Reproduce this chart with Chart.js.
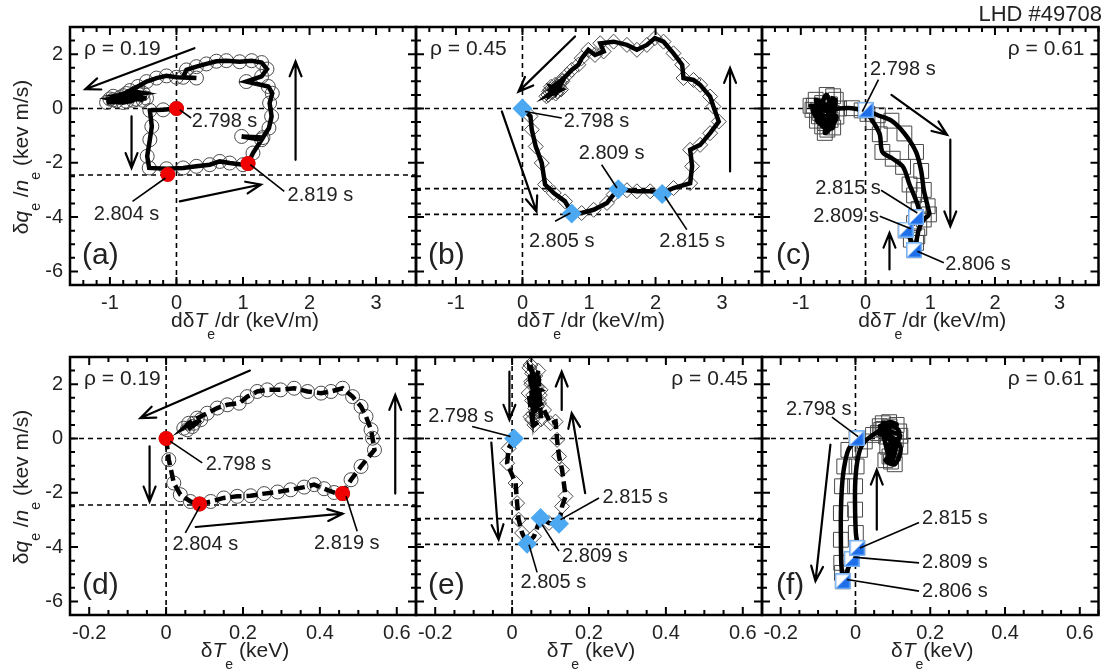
<!DOCTYPE html>
<html>
<head>
<meta charset="utf-8">
<script src="https://cdn.jsdelivr.net/npm/chart.js@4.4.1/dist/chart.umd.min.js"></script>
<style>
  html, body { margin: 0; padding: 0; background: #fff; }
  #wrap { position: relative; width: 1110px; height: 670px; overflow: hidden; }
  #wrap canvas { position: absolute; left: 0; top: 0; }
</style>
</head>
<body>
<div id="wrap">
  <canvas id="pa" width="1110" height="670"></canvas>
  <canvas id="pb" width="1110" height="670"></canvas>
  <canvas id="pc" width="1110" height="670"></canvas>
  <canvas id="pd" width="1110" height="670"></canvas>
  <canvas id="pe" width="1110" height="670"></canvas>
  <canvas id="pf" width="1110" height="670"></canvas>
</div>
<script>
// ---------- data ----------
// tick labels
const gradTicks = [-1, 0, 1, 2, 3];
const tempTicks = [-0.2, 0, 0.2, 0.4, 0.6];
const fluxTicks = [-6, -4, -2, 0, 2];

// (a) rho = 0.19, dq/n vs d(dT)/dr
const aLoopX = [0, -0.2, -0.4, -0.37, -0.4, -0.44, -0.41, -0.15, 0.1, 0.3, 0.5, 0.65, 0.8, 1.0, 1.075,
  1.15, 1.28, 0.98, 1.3, 1.39, 1.43, 1.4, 1.44, 1.38, 1.05, 1.28, 1.36, 1.28, 1.13, 0.95, 0.75, 0.6,
  0.45, 0.3, 0.15, 0.1, 0.3, 0.0, -0.15, -0.3, -0.45, -0.58, -0.7, -0.5, -0.8, -0.45, -0.95, -0.6,
  -1.05, -0.75, -0.9, -1.0, -0.85, -0.7, -0.55, -0.65, -0.8, -0.95, -0.6, -0.75, -0.5];
const aLoopY = [0, -0.05, -0.07, -0.66, -1.15, -1.76, -2.19, -2.22, -2.19, -2.13, -2.07, -1.95, -2.01, -2.07, -2.03,
  -1.64, -1.15, -1.03, -1.07, -0.72, -0.29, 0.2, 0.56, 0.81, 0.99, 1.18, 1.45, 1.69, 1.76, 1.72, 1.76, 1.74,
  1.64, 1.54, 1.42, 1.15, 1.12, 1.15, 1.2, 1.12, 0.99, 0.81, 0.66, 0.56, 0.47, 0.38, 0.32, 0.34,
  0.22, 0.26, 0.28, 0.35, 0.4, 0.45, 0.5, 0.3, 0.22, 0.45, 0.6, 0.55, 0.3];
const aKeyX = [0, -0.13, 1.075];
const aKeyY = [0, -2.43, -2.03];
const aTimes = ['2.798 s', '2.804 s', '2.819 s'];
const aLevels = [0, -2.45];

// (b) rho = 0.45, dq/n vs d(dT)/dr
const bLoopX = [0, 0.12, 0.14, 0.2, 0.29, 0.34, 0.47, 0.64, 0.74, 0.89, 1.07, 1.27, 1.37, 1.44, 1.57, 1.72,
  1.92, 2.1, 2.27, 2.52, 2.55, 2.52, 2.67, 2.82, 2.95, 2.87, 2.82, 2.67, 2.57, 2.42, 2.4, 2.27, 2.12,
  1.99, 1.87, 1.72, 1.57, 1.37, 1.17, 1.22, 1.09, 0.99, 0.89, 0.84, 0.74, 0.67, 0.59, 0.49, 0.42,
  0.52, 0.39, 0.54, 0.45, 0.48, 0.4, 0.55, 0.6, 0.5, 0.43, 0.58, 0.36];
const bLoopY = [0, -0.29, -0.78, -1.4, -2.01, -2.8, -3.11, -3.42, -3.85, -3.85, -3.73, -3.48, -3.17, -2.97, -3.01, -3.05,
  -3.05, -3.12, -2.93, -2.75, -2.13, -1.52, -1.34, -0.91, -0.48, 0.07, 0.44, 0.87, 1.05, 1.12, 1.61, 2.03, 2.46,
  2.59, 2.34, 2.16, 2.34, 2.46, 2.4, 2.1, 1.97, 2.16, 1.85, 1.61, 1.42, 1.24, 1.05, 0.87, 0.69,
  0.63, 0.5, 0.81, 0.6, 0.75, 0.62, 0.9, 1.0, 0.55, 0.8, 0.7, 0.45];
const bKeyX = [0, 0.74, 1.44, 2.1];
const bKeyY = [0, -3.87, -2.97, -3.15];
const bTimes = ['2.798 s', '2.805 s', '2.809 s', '2.815 s'];
const bLevels = [0, -2.95, -3.9];

// (c) rho = 0.61, dq/n vs d(dT)/dr
const cLoopX = [0, 0.19, 0.4, 0.6, 0.78, 0.86, 0.9, 0.96, 0.98, 0.9, 0.83, 0.8, 0.78, 0.75,
  0.7, 0.62, 0.75, 0.78, 0.82, 0.75, 0.68, 0.58, 0.42, 0.26, 0.22, 0.12, 0.03, -0.06, -0.21,
  -0.41, -0.57, -0.67, -0.72, -0.62, -0.77, -0.52, -0.67, -0.46, -0.59, -0.82, -0.54, -0.7, -0.6,
  -0.5, -0.75, -0.65, -0.55, -0.8, -0.85, -0.45, -0.63, -0.5];
const cLoopY = [-0.05, -0.25, -0.45, -0.92, -1.6, -2.3, -3.0, -3.6, -3.9, -4.09, -4.4, -4.71, -4.95, -5.22,
  -4.83, -4.49, -4.22, -4.0, -3.7, -3.2, -2.8, -2.15, -1.85, -1.6, -0.95, -0.5, -0.2, -0.07, 0.01,
  0.0, -0.05, 0.2, -0.29, -0.54, 0.32, -0.17, -0.66, 0.32, -0.78, -0.05, -0.42, -0.17, 0.5,
  -0.7, -0.45, 0.05, 0.15, 0.1, 0.1, -0.3, -0.9, 0.45];
const cKeyX = [0, 0.75, 0.62, 0.78];
const cKeyY = [-0.05, -5.22, -4.46, -4.0];
const cTimes = ['2.798 s', '2.806 s', '2.809 s', '2.815 s'];
const cLevels = [0];

// (d) rho = 0.19, dq/n vs dT
const dLoopX = [0, 0.007, 0.02, 0.037, 0.063, 0.087, 0.116, 0.15, 0.185, 0.22, 0.255, 0.29, 0.324, 0.359,
  0.385, 0.411, 0.437, 0.459, 0.481, 0.507, 0.542, 0.537, 0.533, 0.52, 0.507, 0.485, 0.459, 0.429,
  0.403, 0.368, 0.333, 0.298, 0.263, 0.237, 0.211, 0.19, 0.159, 0.133, 0.107, 0.081, 0.059, 0.046,
  0.072, 0.055, 0.09, 0.068];
const dLoopY = [0, -0.78, -1.64, -2.07, -2.32, -2.41, -2.32, -2.19, -2.13, -2.11, -2.03, -1.97, -1.89, -1.79,
  -1.7, -1.85, -1.99, -2.03, -1.52, -1.03, -0.42, 0.01, 0.32, 0.81, 1.18, 1.54, 1.85, 1.73,
  1.67, 1.73, 1.85, 1.79, 1.79, 1.73, 1.54, 1.3, 1.24, 1.12, 0.93, 0.75, 0.56, 0.38,
  0.56, 0.32, 0.69, 0.44];
const dKeyX = [0, 0.087, 0.459];
const dKeyY = [0, -2.41, -2.03];
const dTimes = ['2.798 s', '2.804 s', '2.819 s'];
const dLevels = [0, -2.45];

// (e) rho = 0.45, dq/n vs dT
const eLoopX = [0.005, -0.009, -0.013, 0.009, 0.013, 0.017, 0.026, 0.039, 0.057, 0.074, 0.096, 0.122, 0.13, 0.139,
  0.13, 0.122, 0.117, 0.113, 0.1, 0.083, 0.07, 0.061, 0.052, 0.048, 0.057, 0.065, 0.052, 0.043, 0.074,
  0.05, 0.06, 0.055, 0.045, 0.06, 0.05, 0.065, 0.055, 0.07, 0.06, 0.048, 0.058, 0.075, 0.068, 0.052,
  0.062, 0.072];
const eLoopY = [0, -0.36, -0.91, -1.64, -2.38, -2.99, -3.48, -3.88, -3.6, -2.93, -3.11, -3.14, -2.5, -2.13,
  -1.15, -0.66, -0.05, 0.62, 0.56, 1.05, 1.42, 1.91, 2.4, 2.71, 2.16, 1.18, 0.69, 1.67, 1.79,
  2.0, 1.5, 0.9, 2.6, 2.3, 2.1, 1.9, 1.6, 1.3, 1.1, 0.8, 0.5, 0.7, 2.5, 1.4,
  0.95, 1.6];
const eKeyX = [0.005, 0.039, 0.074, 0.122];
const eKeyY = [0, -3.88, -2.93, -3.14];
const eTimes = ['2.798 s', '2.805 s', '2.809 s', '2.815 s'];
const eLevels = [0, -2.95, -3.9];

// (f) rho = 0.61, dq/n vs dT
const fLoopX = [0.003, -0.019, -0.03, -0.036, -0.039, -0.039, -0.038, -0.036, -0.034, -0.01, 0.005, 0.001, -0.001,
  -0.001, 0.003, 0.012, 0.025, 0.047, 0.069, 0.091, 0.082, 0.1, 0.091, 0.104, 0.117, 0.073, 0.095,
  0.108, 0.06, 0.09, 0.11, 0.075, 0.12, 0.085, 0.1, 0.08, 0.105, 0.12, 0.065, 0.095];
const fLoopY = [0, -0.42, -1.03, -1.76, -2.75, -3.73, -4.58, -4.95, -5.26, -4.44, -4.03, -3.48, -2.62,
  -1.76, -1.03, -0.42, -0.11, 0.13, 0.32, 0.44, 0.07, -0.17, -0.66, -0.42, 0.26, 0.56, -0.85,
  -0.05, 0.2, 0.6, 0.5, 0.35, 0.1, -0.3, -0.55, -0.8, -0.95, -0.3, 0.45, 0.3];
const fKeyX = [0.003, -0.034, -0.01, 0.005];
const fKeyY = [0, -5.26, -4.44, -4.03];
const fTimes = ['2.798 s', '2.806 s', '2.809 s', '2.815 s'];
const fLevels = [0];

// ---------- drawing ----------
const FONT = '"Liberation Sans", Arial, Helvetica, sans-serif';
Chart.defaults.font.family = FONT;

function pts(xs, ys) { return xs.map((x, i) => ({ x: x, y: ys[i] })); }

// half white / half blue square used for the key times at rho = 0.61
function splitSquare(size) {
  const c = document.createElement('canvas');
  c.width = c.height = size;
  const g = c.getContext('2d');
  g.fillStyle = '#ffffff';
  g.fillRect(0, 0, size, size);
  g.fillStyle = '#1d6ee8';
  g.beginPath(); g.moveTo(size, 0); g.lineTo(size, size); g.lineTo(0, size); g.closePath(); g.fill();
  g.strokeStyle = '#79b2f4'; g.lineWidth = 1.5;
  g.strokeRect(0.75, 0.75, size - 1.5, size - 1.5);
  return c;
}
const halfSquare = splitSquare(16);

function drawArrow(ctx, x1, y1, x2, y2) {
  const ang = Math.atan2(y2 - y1, x2 - x1), L = 16, W = 0.38;
  ctx.beginPath();
  ctx.moveTo(x1, y1); ctx.lineTo(x2, y2);
  ctx.moveTo(x2 - L * Math.cos(ang - W), y2 - L * Math.sin(ang - W));
  ctx.lineTo(x2, y2);
  ctx.lineTo(x2 - L * Math.cos(ang + W), y2 - L * Math.sin(ang + W));
  ctx.stroke();
}

// text with italic parts ('i') and subscripts ('s')
function richText(ctx, parts, x, y) {
  const fontOf = s => (s === 'i' ? 'italic ' : '') + (s === 's' ? 14 : 21) + 'px ' + FONT;
  let w = 0;
  parts.forEach(([t, s]) => { ctx.font = fontOf(s); w += ctx.measureText(t).width; });
  let cx = x - w / 2;
  ctx.textAlign = 'left';
  ctx.textBaseline = 'middle';
  parts.forEach(([t, s]) => {
    ctx.font = fontOf(s);
    ctx.fillText(t, cx, s === 's' ? y + 14 : y);
    cx += ctx.measureText(t).width;
  });
}

const gradTitle = [['dδ', ''], ['T', 'i'], ['e', 's'], ['/dr (keV/m)', '']];
const tempTitle = [['δ', ''], ['T', 'i'], ['e', 's'], [' (keV)', '']];
const fluxTitle = [['δ', ''], ['q', 'i'], ['e', 's'], [' /', ''], ['n', 'i'], ['e', 's'], [' (kev m/s)', '']];

const panels = [
  { id: 'pa', tag: '(a)', rho: 'ρ = 0.19', rhoLeft: true, box: [70, 27, 416, 285], kind: 'grad',
    loopX: aLoopX, loopY: aLoopY, keyX: aKeyX, keyY: aKeyY, times: aTimes, levels: aLevels,
    marker: 'circle', key: 'dot', dash: [], tension: 0, yLabels: true,
    labels: [[0.23, -0.48, 'left', 0.05, -0.05, 0.22, -0.35], [-0.75, -3.91, 'center', -0.66, -3.42, -0.165, -2.56],
             [1.67, -3.21, 'left', 1.11, -2.07, 1.62, -3.05]],
    arrows: [[0.27, 2.22, -1.37, 0.71], [-0.675, -0.29, -0.675, -2.19], [0.05, -3.42, 1.27, -2.8], [1.79, -1.89, 1.79, 1.73]] },
  { id: 'pb', tag: '(b)', rho: 'ρ = 0.45', rhoLeft: true, box: [416, 27, 762, 285], kind: 'grad',
    loopX: bLoopX, loopY: bLoopY, keyX: bKeyX, keyY: bKeyY, times: bTimes, levels: bLevels,
    marker: 'rectRot', key: 'diamond', dash: [], tension: 0, yLabels: false,
    labels: [[0.62, -0.48, 'left', 0.04, -0.11, 0.59, -0.35], [0.59, -4.89, 'center', 0.49, -4.15, 0.72, -3.85],
             [1.34, -1.64, 'center', 1.19, -2.07, 1.42, -2.93], [2.55, -4.89, 'center', 2.47, -4.46, 2.14, -3.24]],
    arrows: [[0.79, 2.65, -0.06, 0.62], [-0.31, -0.11, 0.21, -3.79], [3.12, -2.32, 3.12, 1.49]] },
  { id: 'pc', tag: '(c)', rho: 'ρ = 0.61', rhoLeft: false, box: [762, 27, 1104, 285], kind: 'grad',
    loopX: cLoopX, loopY: cLoopY, keyX: cKeyX, keyY: cKeyY, times: cTimes, levels: cLevels,
    marker: 'rect', key: 'half', dash: [], tension: 0.3, yLabels: false, header: 'LHD #49708',
    labels: [[0.07, 1.42, 'left', 0.2, 1.06, -0.05, -0.12], [1.23, -5.75, 'left', 1.21, -5.68, 0.8, -5.26],
             [-0.3, -3.97, 'center', 0.22, -3.97, 0.7, -4.43], [-0.27, -2.96, 'center', 0.24, -3.01, 0.8, -3.85]],
    arrows: [[0.4, 0.5, 1.26, -0.97], [1.31, -1.15, 1.31, -4.34], [0.37, -5.93, 0.37, -4.58]] },
  { id: 'pd', tag: '(d)', rho: 'ρ = 0.19', rhoLeft: true, box: [70, 357, 416, 615], kind: 'temp',
    loopX: dLoopX, loopY: dLoopY, keyX: dKeyX, keyY: dKeyY, times: dTimes, levels: dLevels,
    marker: 'circle', key: 'dot', dash: [11, 5], tension: 0, yLabels: true,
    labels: [[0.103, -0.97, 'left', 0.011, -0.11, 0.094, -0.9], [0.102, -3.91, 'center', 0.088, -2.5, 0.05, -3.48],
             [0.47, -3.85, 'center', 0.468, -2.13, 0.497, -3.42]],
    arrows: [[0.218, 2.5, -0.067, 0.75], [-0.043, -0.29, -0.043, -2.32], [0.077, -3.26, 0.459, -2.77], [0.596, -2.03, 0.596, 1.6]] },
  { id: 'pe', tag: '(e)', rho: 'ρ = 0.45', rhoLeft: false, box: [416, 357, 762, 615], kind: 'temp',
    loopX: eLoopX, loopY: eLoopY, keyX: eKeyX, keyY: eKeyY, times: eTimes, levels: eLevels,
    marker: 'rectRot', key: 'diamond', dash: [11, 5], tension: 0, yLabels: false,
    labels: [[-0.133, 0.81, 'center', -0.104, 0.44, -0.004, 0.07], [0.022, -5.32, 'left', 0.065, -4.93, 0.044, -3.91],
             [0.13, -4.34, 'left', 0.122, -4.15, 0.078, -3.17], [0.235, -2.17, 'left', 0.226, -2.19, 0.126, -2.99]],
    arrows: [[-0.007, 2.46, -0.007, 0.69], [-0.054, -0.15, -0.035, -3.72], [0.129, 1.05, 0.129, 2.46], [0.19, -2.01, 0.155, 0.93]] },
  { id: 'pf', tag: '(f)', rho: 'ρ = 0.61', rhoLeft: false, box: [762, 357, 1104, 615], kind: 'temp',
    loopX: fLoopX, loopY: fLoopY, keyX: fKeyX, keyY: fKeyY, times: fTimes, levels: fLevels,
    marker: 'rect', key: 'half', dash: [], tension: 0.3, yLabels: false,
    labels: [[-0.186, 1.06, 'left', -0.063, 0.79, 0.007, 0.07], [0.178, -5.62, 'left', 0.17, -5.62, -0.023, -5.19],
             [0.178, -4.58, 'left', 0.17, -4.58, -0.006, -4.37], [0.178, -2.96, 'left', 0.17, -3.09, 0.012, -4.03]],
    arrows: [[-0.067, -0.23, -0.107, -5.25], [0.057, -3.36, 0.057, -1.15]] }
];

function ticksAlong(min, max, step, major) {
  const out = [];
  for (let k = Math.ceil(min / step - 1e-9); k <= Math.floor(max / step + 1e-9); k++) {
    const v = k * step;
    out.push([v, Math.abs(v / major - Math.round(v / major)) < 1e-6]);
  }
  return out;
}

function decor(p) {
  const grad = p.kind === 'grad';
  return {
    id: 'decor',
    beforeDatasetsDraw(chart) {
      const { ctx, chartArea: a, scales: { x, y } } = chart;
      ctx.save();
      ctx.strokeStyle = '#000';
      ctx.lineWidth = 1.6;
      ctx.setLineDash([5, 4]);
      ctx.beginPath();
      p.levels.forEach(v => {
        const py = y.getPixelForValue(v);
        ctx.moveTo(a.left, py); ctx.lineTo(a.right, py);
      });
      const px0 = x.getPixelForValue(0);
      ctx.moveTo(px0, a.top); ctx.lineTo(px0, a.bottom);
      ctx.stroke();
      ctx.restore();
    },
    afterDatasetsDraw(chart) {
      const { ctx, chartArea: a, scales: { x, y } } = chart;
      ctx.save();
      ctx.strokeStyle = '#000';
      ctx.fillStyle = '#222';
      // leader lines and time labels
      ctx.lineWidth = 1.6;
      ctx.font = '20px ' + FONT;
      ctx.textBaseline = 'middle';
      p.labels.forEach((l, i) => {
        ctx.beginPath();
        ctx.moveTo(x.getPixelForValue(l[3]), y.getPixelForValue(l[4]));
        ctx.lineTo(x.getPixelForValue(l[5]), y.getPixelForValue(l[6]));
        ctx.stroke();
        ctx.textAlign = l[2];
        ctx.fillText(p.times[i], x.getPixelForValue(l[0]), y.getPixelForValue(l[1]));
      });
      // direction arrows
      ctx.lineWidth = 2.2;
      ctx.lineCap = 'round';
      p.arrows.forEach(r => drawArrow(ctx, x.getPixelForValue(r[0]), y.getPixelForValue(r[1]),
        x.getPixelForValue(r[2]), y.getPixelForValue(r[3])));
      ctx.lineCap = 'butt';
      // rho and panel tag
      ctx.font = '21px ' + FONT;
      ctx.textAlign = p.rhoLeft ? 'left' : 'right';
      ctx.fillText(p.rho, p.rhoLeft ? a.left + 14 : a.right - 14, a.top + 22);
      ctx.font = '30px ' + FONT;
      ctx.textAlign = 'left';
      ctx.fillText(p.tag, a.left + (p.tag === '(c)' || p.tag === '(f)' ? 14 : 12), a.top + 229);
      // frame and inward ticks
      ctx.lineWidth = 2.5;
      ctx.strokeRect(a.left, a.top, a.width, a.height);
      ctx.lineWidth = 2;
      ctx.beginPath();
      ticksAlong(x.min, x.max, grad ? 0.2 : 0.05, grad ? 1 : 0.2).forEach(([v, big]) => {
        const px = x.getPixelForValue(v), len = big ? 8 : 5;
        ctx.moveTo(px, a.bottom); ctx.lineTo(px, a.bottom - len);
        ctx.moveTo(px, a.top); ctx.lineTo(px, a.top + len);
      });
      ticksAlong(y.min, y.max, 0.5, 2).forEach(([v, big]) => {
        const py = y.getPixelForValue(v), len = big ? 8 : 5;
        ctx.moveTo(a.left, py); ctx.lineTo(a.left + len, py);
        ctx.moveTo(a.right, py); ctx.lineTo(a.right - len, py);
      });
      ctx.stroke();
      ctx.restore();
    },
    afterDraw(chart) {
      const { ctx, chartArea: a } = chart;
      ctx.save();
      ctx.fillStyle = '#222';
      const cx = (a.left + a.right) / 2 + 2;
      if (grad) richText(ctx, gradTitle, cx, a.bottom + 36);
      else richText(ctx, p.tag === '(f)' ? [['δ', ''], ['T', 'i'], ['e', 's'], ['(keV)', '']] : tempTitle, cx, a.bottom + 36);
      if (p.yLabels) {
        ctx.translate(22, (a.top + a.bottom) / 2 + 1);
        ctx.rotate(-Math.PI / 2);
        richText(ctx, fluxTitle, 0, 0);
        ctx.setTransform(1, 0, 0, 1, 0, 0);
      }
      if (p.header) {
        ctx.font = '22px ' + FONT;
        ctx.textAlign = 'right';
        ctx.textBaseline = 'middle';
        ctx.fillText(p.header, 1102, 15);
      }
      ctx.restore();
    }
  };
}

const keyStyles = {
  dot: { pointStyle: 'circle', pointRadius: 7.5, pointBackgroundColor: '#f00000', pointBorderColor: '#f00000', pointBorderWidth: 0 },
  diamond: { pointStyle: 'rectRot', pointRadius: 10, pointBackgroundColor: '#4ca8f0', pointBorderColor: '#4ca8f0', pointBorderWidth: 0 },
  half: { pointStyle: halfSquare, pointRadius: 8 }
};
const markerRadius = { circle: 7, rectRot: 7.5, rect: 10.5 };

panels.forEach(p => {
  const grad = p.kind === 'grad';
  const loop = pts(p.loopX, p.loopY);
  const keys = pts(p.keyX, p.keyY);
  const fmtX = v => (v === 0 ? '0' : (grad ? String(v) : v.toFixed(1)));
  const yW = p.yLabels ? 62 : 8;
  new Chart(document.getElementById(p.id), {
    type: 'scatter',
    data: {
      datasets: [
        { data: loop, showLine: false, pointStyle: p.marker, pointRadius: markerRadius[p.marker],
          pointBorderWidth: 1, pointBorderColor: '#4a4a4a', pointBackgroundColor: 'rgba(0,0,0,0)', order: 3 },
        { data: loop, showLine: true, borderColor: '#000', borderWidth: 4.5, borderDash: p.dash,
          tension: p.tension, pointRadius: 0, fill: false, order: 2 },
        Object.assign({ data: keys, showLine: false, order: 1 }, keyStyles[p.key])
      ]
    },
    options: {
      responsive: false,
      devicePixelRatio: 1,
      animation: false,
      events: [],
      layout: { padding: { left: p.box[0] - yW, top: p.box[1], right: 1110 - p.box[2], bottom: 670 - p.box[3] - 40 } },
      plugins: { legend: { display: false }, tooltip: { enabled: false } },
      scales: {
        x: {
          type: 'linear',
          min: grad ? -1.6 : -0.25,
          max: grad ? 3.6 : 0.65,
          grid: { display: false, drawTicks: false },
          border: { display: false },
          ticks: { font: { size: 20 }, color: '#222', padding: 6, autoSkip: false, maxRotation: 0, callback: fmtX },
          afterBuildTicks: s => { s.ticks = (grad ? gradTicks : tempTicks).map(v => ({ value: v })); },
          afterFit: s => { s.height = 40; }
        },
        y: {
          type: 'linear',
          min: -6.5,
          max: 3,
          grid: { display: false, drawTicks: false },
          border: { display: false },
          ticks: { display: p.yLabels, font: { size: 20 }, color: '#222', padding: 7, autoSkip: false },
          afterBuildTicks: s => { s.ticks = fluxTicks.map(v => ({ value: v })); },
          afterFit: s => { s.width = yW; }
        }
      }
    },
    plugins: [decor(p)]
  });
});
</script>
</body>
</html>
